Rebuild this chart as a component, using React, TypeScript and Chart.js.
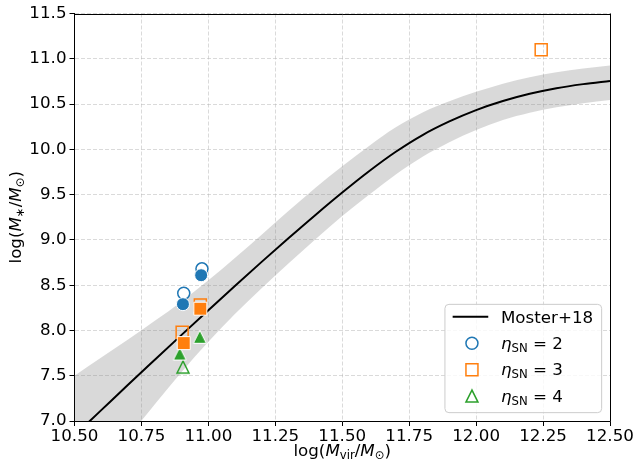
import React, { useEffect, useRef } from 'react';
import { Chart, registerables } from 'chart.js';

Chart.register(...registerables);

// ---------- data ----------
const mosterX = [10.5, 10.6, 10.7, 10.8, 10.9, 11.0, 11.1, 11.2, 11.3, 11.4, 11.5, 11.6, 11.7, 11.8, 11.9, 12.0, 12.1, 12.2, 12.3, 12.4, 12.5];
const mosterMid = [6.84, 7.12, 7.40, 7.676, 7.951, 8.224, 8.494, 8.760, 9.021, 9.276, 9.523, 9.758, 9.973, 10.158, 10.308, 10.433, 10.533, 10.613, 10.675, 10.720, 10.755];
const mosterUpper = [7.50, 7.70, 7.90, 8.106, 8.321, 8.554, 8.804, 9.060, 9.321, 9.576, 9.813, 10.038, 10.243, 10.408, 10.530, 10.635, 10.725, 10.797, 10.852, 10.893, 10.925];
const mosterLower = [6.09, 6.46, 6.82, 7.186, 7.541, 7.874, 8.184, 8.470, 8.741, 9.006, 9.263, 9.498, 9.723, 9.918, 10.078, 10.213, 10.323, 10.403, 10.465, 10.510, 10.545];

const eta2FilledX = [10.905, 10.973];
const eta2FilledY = [8.29, 8.61];
const eta2OpenX = [10.908, 10.976];
const eta2OpenY = [8.41, 8.68];

const eta3FilledX = [10.908, 10.970];
const eta3FilledY = [7.86, 8.24];
const eta3OpenX = [10.902, 10.970, 12.243];
const eta3OpenY = [7.98, 8.28, 11.10];

const eta4FilledX = [10.893, 10.968];
const eta4FilledY = [7.745, 7.93];
const eta4OpenX = [10.905];
const eta4OpenY = [7.595];

const xMin = 10.5, xMax = 12.5, xStep = 0.25;
const yMin = 7.0, yMax = 11.5, yStep = 0.5;

const legendLabels = ['Moster+18', '2', '3', '4'];

// ---------- style ----------
const BLUE = '#1f77b4';
const ORANGE = '#ff7f0e';
const GREEN = '#2ca02c';
const FONT = '"DejaVu Sans", sans-serif';
const FS = 16.7;
const MS = 12; // marker box size

const zip = (xs: number[], ys: number[]) => xs.map((x, i) => ({ x, y: ys[i] }));

type Part = { t: string; it?: boolean; sub?: boolean };

function partFont(p: Part, size: number) {
  const s = p.sub ? size * 0.7 : size;
  return `${p.it ? 'italic ' : ''}${s}px ${FONT}`;
}
function richWidth(ctx: CanvasRenderingContext2D, parts: Part[], size: number) {
  let w = 0;
  for (const p of parts) {
    ctx.font = partFont(p, size);
    w += ctx.measureText(p.t).width;
  }
  return w;
}
function drawRich(ctx: CanvasRenderingContext2D, parts: Part[], x: number, y: number, size: number) {
  let cx = x;
  ctx.textBaseline = 'alphabetic';
  ctx.textAlign = 'left';
  for (const p of parts) {
    ctx.font = partFont(p, size);
    const dy = p.sub ? size * 0.2 : 0;
    ctx.fillText(p.t, cx, y + dy);
    cx += ctx.measureText(p.t).width;
  }
}

function makeTriangle(color: string, filled: boolean) {
  const c = document.createElement('canvas');
  c.width = 24;
  c.height = 24;
  const g = c.getContext('2d')!;
  const h = filled ? MS / 2 + 0.5 : MS / 2;
  g.beginPath();
  g.moveTo(12, 12 - h);
  g.lineTo(12 - h, 12 + h);
  g.lineTo(12 + h, 12 + h);
  g.closePath();
  if (filled) {
    g.fillStyle = color;
    g.fill();
    g.strokeStyle = '#ffffff';
    g.lineWidth = 1;
    g.stroke();
  } else {
    g.strokeStyle = color;
    g.lineWidth = 1.5;
    g.stroke();
  }
  return c;
}

function drawLegendMarker(ctx: CanvasRenderingContext2D, kind: string, x: number, y: number, color: string) {
  const h = MS / 2;
  ctx.save();
  ctx.strokeStyle = color;
  ctx.lineWidth = 1.5;
  ctx.beginPath();
  if (kind === 'circle') {
    ctx.arc(x, y, h, 0, Math.PI * 2);
  } else if (kind === 'rect') {
    ctx.rect(x - h, y - h, MS, MS);
  } else {
    ctx.moveTo(x, y - h);
    ctx.lineTo(x - h, y + h);
    ctx.lineTo(x + h, y + h);
    ctx.closePath();
  }
  ctx.stroke();
  ctx.restore();
}

const decorPlugin = {
  id: 'decor',
  afterDatasetsDraw(chart: any) {
    const ctx: CanvasRenderingContext2D = chart.ctx;
    const a = chart.chartArea;
    const pad = FS * 0.5;
    const w = 156.7, h = 108.3;
    const bx = a.right - pad - w;
    const by = a.bottom - pad - h;
    ctx.save();
    ctx.beginPath();
    const r = 4;
    ctx.moveTo(bx + r, by);
    ctx.lineTo(bx + w - r, by);
    ctx.quadraticCurveTo(bx + w, by, bx + w, by + r);
    ctx.lineTo(bx + w, by + h - r);
    ctx.quadraticCurveTo(bx + w, by + h, bx + w - r, by + h);
    ctx.lineTo(bx + r, by + h);
    ctx.quadraticCurveTo(bx, by + h, bx, by + h - r);
    ctx.lineTo(bx, by + r);
    ctx.quadraticCurveTo(bx, by, bx + r, by);
    ctx.closePath();
    ctx.fillStyle = 'rgba(255,255,255,0.8)';
    ctx.fill();
    ctx.strokeStyle = '#cccccc';
    ctx.lineWidth = 1;
    ctx.stroke();

    const rowY = (i: number) => by + 12.5 + i * 26.4;
    const hx1 = bx + 7.7, hx2 = bx + 43.3;
    const mx = bx + 27;
    const tx = bx + 56;
    ctx.fillStyle = '#000';
    ctx.strokeStyle = '#000';
    ctx.lineWidth = 2;
    ctx.beginPath();
    ctx.moveTo(hx1, rowY(0));
    ctx.lineTo(hx2, rowY(0));
    ctx.stroke();
    ctx.font = `${FS}px ${FONT}`;
    ctx.textBaseline = 'alphabetic';
    ctx.textAlign = 'left';
    ctx.fillText(legendLabels[0], tx, rowY(0) + 6);
    const kinds = ['circle', 'rect', 'triangle'];
    const cols = [BLUE, ORANGE, GREEN];
    for (let i = 0; i < 3; i++) {
      const y = rowY(i + 1);
      drawLegendMarker(ctx, kinds[i], mx, y, cols[i]);
      ctx.fillStyle = '#000';
      drawRich(ctx, [{ t: 'η', it: true }, { t: 'SN', sub: true }, { t: ' = ' + legendLabels[i + 1] }], tx, y + 5.5, FS);
    }
    ctx.restore();
  },
  afterDraw(chart: any) {
    const ctx: CanvasRenderingContext2D = chart.ctx;
    const a = chart.chartArea;
    ctx.save();
    ctx.strokeStyle = '#000';
    ctx.lineWidth = 1;
    ctx.beginPath();
    ctx.moveTo(a.left, Math.round(a.top) + 0.5);
    ctx.lineTo(a.right, Math.round(a.top) + 0.5);
    ctx.moveTo(Math.round(a.right) + 0.5, a.top);
    ctx.lineTo(Math.round(a.right) + 0.5, a.bottom);
    ctx.stroke();

    ctx.fillStyle = '#000';
    const xParts: Part[] = [
      { t: 'log(' }, { t: 'M', it: true }, { t: 'vir', sub: true }, { t: '/' },
      { t: 'M', it: true }, { t: '⊙', sub: true }, { t: ')' },
    ];
    const xw = richWidth(ctx, xParts, FS);
    drawRich(ctx, xParts, (a.left + a.right) / 2 - xw / 2, 456, FS);
    const yParts: Part[] = [
      { t: 'log(' }, { t: 'M', it: true }, { t: '∗', sub: true }, { t: '/' },
      { t: 'M', it: true }, { t: '⊙', sub: true }, { t: ')' },
    ];
    const yw = richWidth(ctx, yParts, FS);
    ctx.translate(21, (a.top + a.bottom) / 2);
    ctx.rotate(-Math.PI / 2);
    drawRich(ctx, yParts, -yw / 2, 0, FS);
    ctx.restore();
  },
};

export default function App() {
  const ref = useRef<HTMLCanvasElement | null>(null);

  useEffect(() => {
    if (!ref.current) return;
    const triFilled = makeTriangle(GREEN, true);
    const triOpen = makeTriangle(GREEN, false);
    const rectR = (MS / 2) / Math.SQRT1_2;
    const rectRF = (MS / 2 + 0.5) / Math.SQRT1_2;
    const bandFill = 'rgba(128,128,128,0.3)';

    const chart = new Chart(ref.current, {
      type: 'scatter',
      data: {
        datasets: [
          {
            label: 'eta2 filled', data: zip(eta2FilledX, eta2FilledY), order: 1,
            pointStyle: 'circle', pointRadius: MS / 2 + 0.5, backgroundColor: BLUE, borderColor: '#ffffff', borderWidth: 1,
          },
          {
            label: 'eta3 filled', data: zip(eta3FilledX, eta3FilledY), order: 1,
            pointStyle: 'rect', pointRadius: rectRF, backgroundColor: ORANGE, borderColor: '#ffffff', borderWidth: 1,
          },
          {
            label: 'eta4 filled', data: zip(eta4FilledX, eta4FilledY), order: 1,
            pointStyle: triFilled as any, pointRadius: MS / 2,
          },
          {
            label: 'eta2 open', data: zip(eta2OpenX, eta2OpenY), order: 2,
            pointStyle: 'circle', pointRadius: MS / 2, backgroundColor: 'rgba(0,0,0,0)', borderColor: BLUE, borderWidth: 1.5,
          },
          {
            label: 'eta3 open', data: zip(eta3OpenX, eta3OpenY), order: 2,
            pointStyle: 'rect', pointRadius: rectR, backgroundColor: 'rgba(0,0,0,0)', borderColor: ORANGE, borderWidth: 1.5,
          },
          {
            label: 'eta4 open', data: zip(eta4OpenX, eta4OpenY), order: 2,
            pointStyle: triOpen as any, pointRadius: MS / 2,
          },
          {
            label: 'Moster+18', data: zip(mosterX, mosterMid), order: 3,
            showLine: true, pointRadius: 0, borderColor: '#000000', borderWidth: 2,
            cubicInterpolationMode: 'monotone', fill: false,
          } as any,
          {
            label: 'band upper', data: zip(mosterX, mosterUpper), order: 4,
            showLine: true, pointRadius: 0, borderColor: 'rgba(0,0,0,0)', borderWidth: 0,
            cubicInterpolationMode: 'monotone', fill: '+1', backgroundColor: bandFill,
          } as any,
          {
            label: 'band lower', data: zip(mosterX, mosterLower), order: 5,
            showLine: true, pointRadius: 0, borderColor: 'rgba(0,0,0,0)', borderWidth: 0,
            cubicInterpolationMode: 'monotone', fill: false,
          } as any,
        ],
      },
      options: {
        responsive: false,
        maintainAspectRatio: false,
        animation: false,
        devicePixelRatio: 1,
        events: [],
        layout: { padding: { top: 13.5, right: 26, bottom: 0, left: 0 } },
        plugins: { legend: { display: false }, tooltip: { enabled: false } },
        scales: {
          x: {
            type: 'linear', min: xMin, max: xMax,
            afterFit: (s: any) => { s.height = 51; },
            ticks: {
              stepSize: xStep, autoSkip: false, maxRotation: 0, minRotation: 0, padding: 1,
              color: '#000', font: { family: FONT, size: FS },
              callback: (v: any) => Number(v).toFixed(2),
            },
            grid: { color: 'rgba(176,176,176,0.6)', lineWidth: 0.8, tickLength: 5, tickColor: '#000', tickWidth: 1 },
            border: { color: '#000', width: 1, dash: [4, 2] },
          },
          y: {
            type: 'linear', min: yMin, max: yMax,
            afterFit: (s: any) => { s.width = 74.5; },
            ticks: {
              stepSize: yStep, autoSkip: false, padding: 3,
              color: '#000', font: { family: FONT, size: FS },
              callback: (v: any) => Number(v).toFixed(1),
            },
            grid: { color: 'rgba(176,176,176,0.6)', lineWidth: 0.8, tickLength: 5, tickColor: '#000', tickWidth: 1 },
            border: { color: '#000', width: 1, dash: [4, 2] },
          },
        },
      } as any,
      plugins: [decorPlugin],
    });
    return () => chart.destroy();
  }, []);

  return (
    <div style={{ position: 'fixed', left: 0, top: 0, width: 636, height: 472, background: '#fff' }}>
      <canvas ref={ref} width={636} height={472} style={{ width: 636, height: 472, display: 'block' }} />
    </div>
  );
}
